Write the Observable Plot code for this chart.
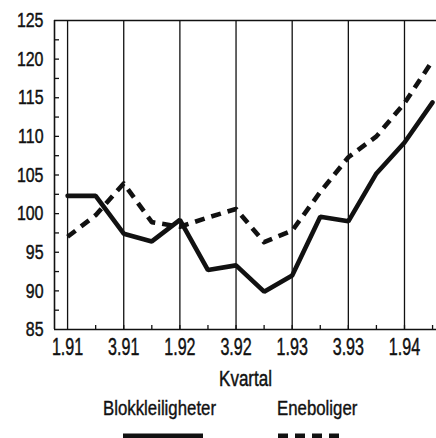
<!DOCTYPE html>
<html><head><meta charset="utf-8">
<script src="https://cdn.jsdelivr.net/npm/d3@7"></script>
<script src="https://cdn.jsdelivr.net/npm/@observablehq/plot@0.6"></script>
<style>
body{margin:0;background:#fff;}
#wrap{position:relative;width:436px;height:438px;overflow:hidden;background:#fff;
  font-family:"Liberation Sans",Arial,Helvetica,sans-serif;}
.leg{position:absolute;font-size:21px;line-height:21px;color:#111;white-space:nowrap;transform:scaleX(0.8);transform-origin:0 0;-webkit-text-stroke:0.4px #111;}
.sample{position:absolute;}
svg text{stroke:#111;stroke-width:0.45px;}
</style></head><body><div id="wrap"></div>
<script>
// Quarters (kvartal.år)
const quarters = ["1.91","2.91","3.91","4.91","1.92","2.92","3.92","4.92","1.93","2.93","3.93","4.93","1.94","2.94"];
// Blokkleiligheter (solid)
const blokk = [102.3,102.3,97.4,96.4,99.2,92.7,93.3,89.9,92.0,99.6,99.0,105.2,109.2,114.4];
// Eneboliger (dashed)
const enebo = [97.0,99.8,103.9,98.9,98.3,99.5,100.6,96.3,97.8,102.8,107.3,110.0,114.3,119.8];
// Labelled quarters (gridlines)
const tickLabels = ["1.91","3.91","1.92","3.92","1.93","3.93","1.94"];
const yLabels = [85,90,95,100,105,110,115,120,125];
const yMinor = [87.5,90,92.5,95,97.5,100,102.5,105,107.5,110,112.5,115,117.5,120,122.5];
const seriesNames = ["Blokkleiligheter","Eneboliger"];
const axisTitle = "Kvartal";

const rowsB = quarters.map((q,i)=>({i, v: blokk[i]}));
const rowsE = quarters.map((q,i)=>({i, v: enebo[i]}));
const labelIdx = tickLabels.map(t=>quarters.indexOf(t));
const allIdx = quarters.map((q,i)=>i).slice(1);
const xDomain = [-0.466, 13.14];
const yDomain = [85,125];
const ink = "#111";

const W = 436, H = 392, mT = 20, mB = 63, mL = 54, mR = 0;
const plotW = W - mL - mR, plotH = H - mT - mB;

const chart = Plot.plot({
  width: W, height: H,
  marginTop: mT, marginBottom: mB, marginLeft: mL, marginRight: mR,
  style: {fontFamily: '"Liberation Sans",Arial,Helvetica,sans-serif', fontSize: "21px", color: ink, background: "#fff", overflow: "visible"},
  x: {domain: xDomain},
  y: {domain: yDomain},
  marks: [
    Plot.ruleX(labelIdx, {x: d=>d, stroke: ink, strokeWidth: 1.3}),
    Plot.ruleX(allIdx, {x: d=>d, stroke: ink, strokeWidth: 1.3, insetTop: plotH - 4}),
    Plot.ruleY(yMinor, {y: d=>d, stroke: ink, strokeWidth: 1.3, insetRight: plotW - 5}),
    Plot.ruleY([yDomain[0], yDomain[1]], {stroke: ink, strokeWidth: 1.6}),
    Plot.ruleX([xDomain[0]], {stroke: ink, strokeWidth: 1.6}),
    Plot.axisY({ticks: yLabels, tickSize: 0, tickPadding: 11, tickFormat: d=>String(d), fill: ink, label: null}),
    Plot.axisX({ticks: labelIdx, tickSize: 0, tickPadding: 9, tickFormat: d=>quarters[d], fill: ink, label: null, fontSize: 23}),
    Plot.text([axisTitle], {frameAnchor: "bottom", dy: 41, lineAnchor: "top", fill: ink, fontSize: 21.5}),
    Plot.line(rowsE, {x: "i", y: "v", stroke: ink, strokeWidth: 4.6, strokeDasharray: "10,7", strokeLinecap: "butt"}),
    Plot.line(rowsB, {x: "i", y: "v", stroke: ink, strokeWidth: 4.6, strokeLinejoin: "miter"})
  ]
});
const wrap = document.getElementById("wrap");
wrap.appendChild(chart);

// condense the sans-serif text horizontally (reference uses a narrow face)
function condense(el, s){
  const t = el.getAttribute("transform");
  if (t) el.setAttribute("transform", t + ` scale(${s},1)`);
  else {
    const x = +(el.getAttribute("x") || 0);
    el.setAttribute("transform", `translate(${x},0) scale(${s},1) translate(${-x},0)`);
  }
}
chart.querySelectorAll('g[aria-label="x-axis tick label"] text').forEach(el=>condense(el, 0.7));
chart.querySelectorAll('g[aria-label="y-axis tick label"] text').forEach(el=>condense(el, 0.76));
chart.querySelectorAll('g[aria-label="text"] text').forEach(el=>condense(el, 0.79));

function legItem(name, left, sampleLeft, sampleW, dash){
  const t = document.createElement("div");
  t.className = "leg"; t.textContent = name;
  t.style.left = left + "px"; t.style.top = "397px";
  wrap.appendChild(t);
  const s = d3.create("svg").attr("class","sample").attr("width", sampleW).attr("height", 8)
    .style("left", sampleLeft + "px").style("top", "432px");
  s.append("line").attr("x1",0).attr("x2",sampleW).attr("y1",4).attr("y2",4)
    .attr("stroke", ink).attr("stroke-width", 5).attr("stroke-dasharray", dash || null);
  wrap.appendChild(s.node());
}
legItem(seriesNames[0], 103, 123, 80, null);
legItem(seriesNames[1], 277, 278, 62, "10,7");
</script></body></html>
